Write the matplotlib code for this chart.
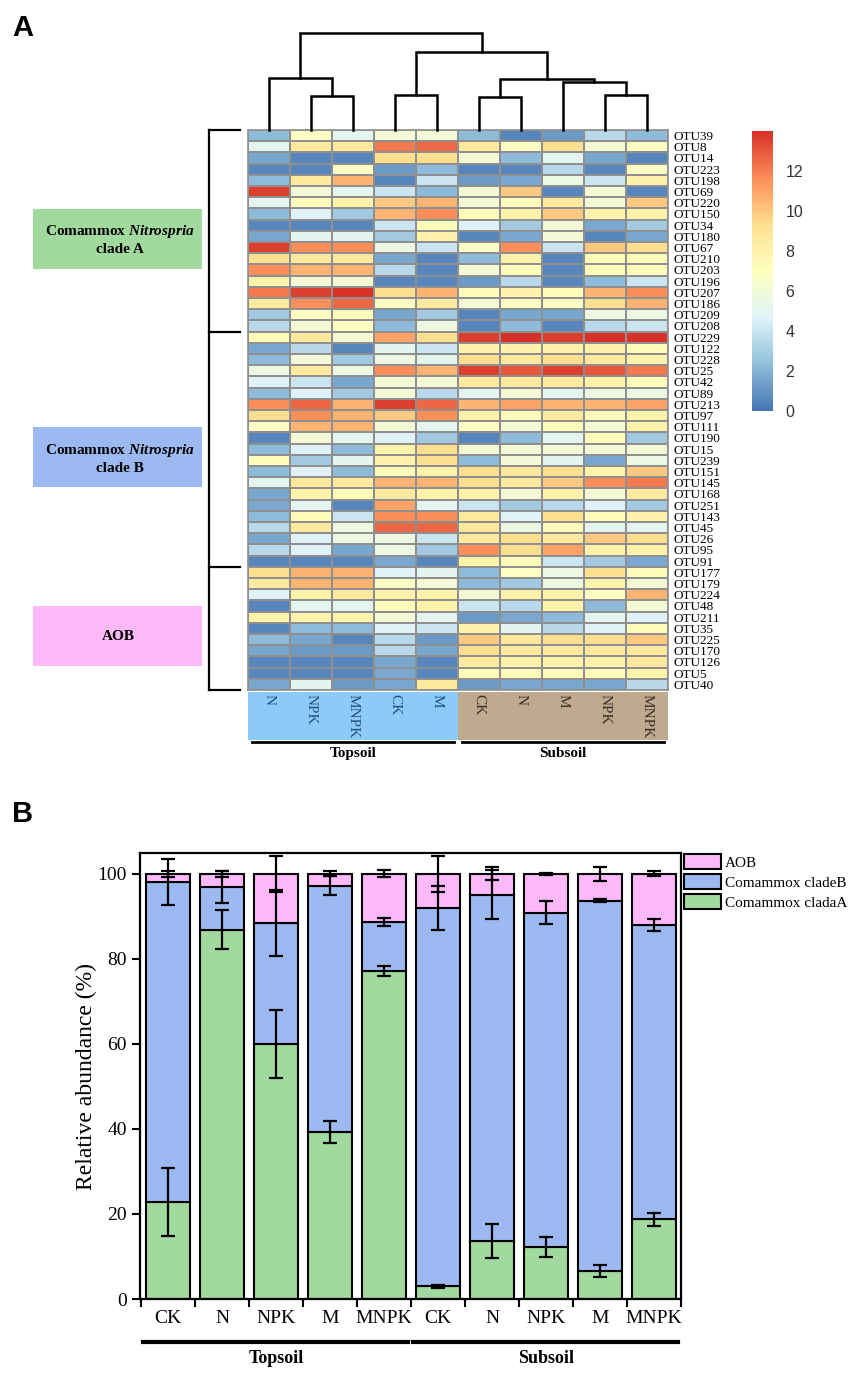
import numpy as np
import matplotlib
matplotlib.use("Agg")
import matplotlib.pyplot as plt
from matplotlib.colors import LinearSegmentedColormap
from matplotlib.patches import Rectangle, Patch

plt.rcParams['font.family'] = 'serif'
plt.rcParams['font.serif'] = ['Liberation Serif', 'DejaVu Serif']
plt.rcParams['mathtext.fontset'] = 'custom'
plt.rcParams['mathtext.rm'] = 'Liberation Serif:bold'
plt.rcParams['mathtext.it'] = 'Liberation Serif:italic:bold'
plt.rcParams['mathtext.bf'] = 'Liberation Serif:bold'

######## heatmap data (panel A) ########
otus = ["OTU39", "OTU8", "OTU14", "OTU223", "OTU198", "OTU69", "OTU220", "OTU150",
        "OTU34", "OTU180", "OTU67", "OTU210", "OTU203", "OTU196", "OTU207", "OTU186",
        "OTU209", "OTU208", "OTU229", "OTU122", "OTU228", "OTU25", "OTU42", "OTU89",
        "OTU213", "OTU97", "OTU111", "OTU190", "OTU15", "OTU239", "OTU151", "OTU145",
        "OTU168", "OTU251", "OTU143", "OTU45", "OTU26", "OTU95", "OTU91", "OTU177",
        "OTU179", "OTU224", "OTU48", "OTU211", "OTU35", "OTU225", "OTU170", "OTU126",
        "OTU5", "OTU40"]
samples = ["N", "NPK", "MNPK", "CK", "M", "CK", "N", "M", "NPK", "MNPK"]
soil = ["Topsoil"] * 5 + ["Subsoil"] * 5
abund = [
    [2.2, 6.8, 5.0, 6.1, 6.1, 2.2, 0.6, 1.2, 3.5, 2.2],
    [5.0, 8.6, 8.6, 12.1, 12.6, 8.6, 6.8, 9.4, 6.1, 6.8],
    [1.6, 0.6, 0.6, 9.4, 9.4, 6.1, 2.2, 5.0, 1.6, 0.6],
    [0.6, 0.6, 6.8, 1.2, 2.2, 0.6, 0.6, 3.5, 0.6, 6.8],
    [2.2, 8.6, 10.6, 0.6, 4.0, 1.2, 1.6, 5.6, 4.0, 8.0],
    [13.6, 6.1, 5.0, 4.0, 2.2, 6.1, 10.0, 0.6, 6.1, 0.6],
    [5.0, 7.3, 8.0, 10.0, 10.6, 6.1, 7.3, 8.6, 6.1, 10.0],
    [2.2, 4.6, 2.8, 10.6, 11.6, 7.3, 8.0, 10.0, 8.0, 8.0],
    [0.6, 0.6, 0.6, 4.0, 7.3, 4.6, 2.8, 6.1, 1.6, 2.8],
    [1.6, 5.0, 5.0, 2.8, 8.0, 0.6, 1.6, 6.1, 0.6, 1.6],
    [13.6, 11.6, 11.6, 5.6, 4.0, 6.8, 11.6, 4.0, 10.0, 9.4],
    [9.4, 8.6, 8.6, 1.6, 0.6, 2.2, 8.0, 0.6, 7.3, 7.3],
    [11.6, 10.6, 10.6, 3.5, 0.6, 6.1, 7.3, 0.6, 7.3, 7.3],
    [8.0, 6.1, 6.1, 0.6, 0.6, 1.2, 3.5, 0.6, 2.2, 4.0],
    [12.1, 13.6, 13.9, 9.4, 10.6, 7.3, 8.0, 7.3, 10.6, 11.6],
    [8.6, 11.6, 12.6, 6.8, 8.6, 6.1, 6.8, 6.8, 9.4, 10.6],
    [2.8, 6.8, 7.3, 1.6, 2.8, 0.6, 1.6, 1.6, 5.6, 5.6],
    [3.5, 6.1, 6.8, 2.2, 5.6, 0.6, 2.2, 0.6, 3.5, 4.0],
    [7.3, 8.6, 6.1, 11.0, 9.4, 13.6, 13.9, 13.6, 13.9, 13.9],
    [1.6, 3.5, 0.6, 5.0, 4.0, 8.0, 8.0, 8.0, 8.0, 7.3],
    [2.2, 6.1, 2.8, 5.6, 5.0, 9.4, 8.6, 9.4, 8.6, 8.0],
    [5.6, 8.6, 5.6, 11.6, 10.6, 13.6, 13.0, 13.6, 13.0, 12.1],
    [4.6, 4.0, 1.6, 6.1, 6.1, 8.6, 8.6, 8.6, 8.0, 7.3],
    [2.2, 4.6, 2.8, 6.1, 3.5, 5.0, 6.1, 5.0, 5.6, 5.6],
    [11.6, 12.6, 10.6, 13.6, 12.6, 10.6, 11.0, 10.6, 10.6, 11.0],
    [9.4, 11.6, 10.6, 10.0, 11.6, 8.0, 7.3, 8.6, 7.3, 8.0],
    [6.8, 10.6, 10.6, 6.1, 5.0, 6.8, 6.1, 7.3, 6.1, 8.0],
    [0.6, 6.1, 5.0, 4.6, 2.8, 0.6, 2.2, 5.0, 7.3, 2.8],
    [2.2, 4.6, 2.2, 8.0, 9.4, 6.1, 6.1, 6.1, 6.1, 6.1],
    [7.3, 2.8, 5.0, 8.0, 9.4, 2.2, 6.1, 5.0, 1.6, 5.6],
    [2.2, 4.6, 2.2, 7.3, 8.0, 9.4, 8.6, 9.4, 8.0, 10.0],
    [5.0, 8.6, 8.6, 10.6, 10.6, 9.4, 8.6, 10.0, 11.6, 12.1],
    [1.6, 8.0, 7.3, 8.6, 8.0, 8.0, 6.1, 8.0, 6.1, 8.6],
    [1.6, 5.0, 0.6, 11.0, 5.0, 4.0, 2.8, 3.5, 4.6, 2.8],
    [2.2, 7.3, 4.0, 11.6, 11.6, 8.6, 4.6, 9.4, 7.3, 8.0],
    [3.5, 8.6, 5.6, 12.6, 12.6, 8.6, 5.6, 7.3, 5.0, 5.0],
    [1.6, 4.6, 5.6, 5.6, 4.0, 8.6, 9.4, 8.6, 10.0, 9.4],
    [3.5, 4.6, 1.6, 5.6, 2.8, 11.6, 9.4, 11.0, 8.0, 8.0],
    [0.6, 0.6, 0.6, 1.6, 0.6, 8.0, 7.3, 4.0, 2.8, 1.6],
    [9.4, 10.6, 10.6, 4.6, 5.0, 2.2, 6.8, 5.6, 9.4, 7.3],
    [8.6, 10.6, 10.6, 6.8, 6.1, 2.2, 2.8, 5.6, 8.0, 6.1],
    [4.6, 8.0, 8.6, 8.0, 8.0, 6.1, 8.0, 8.0, 6.8, 10.6],
    [0.6, 5.0, 5.0, 7.3, 8.0, 4.0, 3.5, 8.0, 2.2, 6.1],
    [8.0, 8.0, 8.0, 6.1, 5.0, 1.2, 1.6, 2.2, 5.0, 4.6],
    [0.6, 2.2, 2.2, 4.6, 4.0, 8.0, 5.0, 3.5, 4.6, 7.3],
    [2.2, 1.6, 0.6, 3.5, 1.2, 10.0, 8.6, 9.4, 9.4, 10.0],
    [1.6, 1.2, 1.2, 3.5, 1.6, 9.4, 8.6, 8.6, 8.6, 8.6],
    [0.6, 0.6, 0.6, 1.6, 0.6, 8.6, 8.0, 8.0, 8.0, 8.6],
    [0.6, 0.6, 0.6, 1.6, 0.6, 7.3, 7.3, 7.3, 7.3, 8.0],
    [1.6, 5.0, 1.2, 1.6, 8.6, 1.2, 1.6, 1.6, 1.6, 3.5],
]
group_names = ["Comammox Nitrospria clade A", "Comammox Nitrospria clade B", "AOB"]
group_sizes = [18, 21, 11]
# column dendrogram: (left node, right node, height); leaves 0-9, new nodes from 10
merge_left = [1, 0, 3, 5, 8, 7, 13, 12, 11]
merge_right = [2, 10, 4, 6, 9, 14, 15, 16, 17]
merge_height = [34, 52, 35, 33, 35, 48, 51, 78, 97]

######## stacked bar data (panel B) ########
treat = ["CK", "N", "NPK", "M", "MNPK", "CK", "N", "NPK", "M", "MNPK"]
clade_a = np.array([22.8, 86.9, 60.0, 39.3, 77.2, 3.0, 13.7, 12.2, 6.6, 18.7])
clade_b = np.array([75.3, 10.0, 28.4, 57.9, 11.4, 89.0, 81.4, 78.7, 87.1, 69.3])
aob = np.array([1.9, 3.1, 11.6, 2.8, 11.4, 8.0, 4.9, 9.1, 6.3, 12.0])
err_a = [8.0, 4.6, 8.0, 2.5, 1.2, 0.4, 4.0, 2.4, 1.5, 1.5]
err_b = [5.5, 3.8, 7.8, 2.2, 0.9, 5.1, 5.8, 2.6, 0.4, 1.4]
err_aob = [0.7, 0.7, 4.2, 0.6, 0.8, 4.2, 1.5, 0.3, 1.6, 0.6]
bar_soil = ["Topsoil"] * 5 + ["Subsoil"] * 5

W, H = 854, 1375
fig = plt.figure(figsize=(W / 100, H / 100), dpi=100)


def box(x0, y0, x1, y1):
    return [x0 / W, 1 - y1 / H, (x1 - x0) / W, (y1 - y0) / H]


green, blue, pink = '#a2d99f', '#9cbaf1', '#fcb8f8'
cmap = LinearSegmentedColormap.from_list(
    'ph', ['#4575B4', '#91BFDB', '#E0F3F8', '#FFFFBF', '#FEE090', '#FC8D59', '#D73027'])

# overlay in pixel coords for brackets / labels
ov = fig.add_axes([0, 0, 1, 1])
ov.set_xlim(0, W)
ov.set_ylim(H, 0)
ov.axis('off')

# heatmap
hx0, hy0, hx1, hy1 = 248, 130, 668, 690
vals = np.array(abund)
nrow, ncol = vals.shape
ax_h = fig.add_axes(box(hx0, hy0, hx1, hy1))
mesh = ax_h.pcolormesh(vals, cmap=cmap, vmin=0, vmax=14,
                       edgecolors='#8f8f8f', linewidth=1.2)
ax_h.set_xlim(0, ncol)
ax_h.set_ylim(nrow, 0)
ax_h.set_xticks([])
ax_h.yaxis.tick_right()
ax_h.set_yticks(np.arange(nrow) + 0.5)
ax_h.set_yticklabels(otus, fontsize=9.5)
ax_h.tick_params(axis='y', length=0, pad=4)
for sp in ax_h.spines.values():
    sp.set_color('#8f8f8f')
    sp.set_linewidth(1.2)

# dendrogram
ax_d = fig.add_axes(box(hx0, 30, hx1, hy0))
ax_d.set_xlim(0, ncol)
ax_d.set_ylim(0, 100)
ax_d.axis('off')
pos = {i: (i + 0.5, 0) for i in range(ncol)}
for k in range(len(merge_left)):
    xa, ya = pos[merge_left[k]]
    xb, yb = pos[merge_right[k]]
    h = merge_height[k]
    ax_d.plot([xa, xa, xb, xb], [ya, h, h, yb], color='k', lw=1.8,
              clip_on=False, solid_joinstyle='miter')
    pos[ncol + k] = ((xa + xb) / 2, h)

# colorbar
cax = fig.add_axes(box(752, 131, 773, 411))
cb = fig.colorbar(mesh, cax=cax, ticks=range(0, 13, 2))
cb.outline.set_visible(False)
cax.tick_params(length=0, pad=9, labelsize=11.5, labelcolor='#333333')
for t in cax.get_yticklabels():
    t.set_family('Liberation Sans')

# row group bracket and labels
row_h = (hy1 - hy0) / nrow
bounds = hy0 + row_h * np.cumsum([0] + group_sizes)
ov.plot([209, 209], [bounds[0], bounds[-1]], color='k', lw=1.6)
for b in bounds:
    ov.plot([209, 240], [b, b], color='k', lw=1.6)
gcols = [green, blue, pink]
for i, name in enumerate(group_names):
    mid = (bounds[i] + bounds[i + 1]) / 2 + 8
    ov.add_patch(Rectangle((33, mid - 30), 169, 60, color=gcols[i], lw=0))
    if name.startswith("Comammox"):
        ov.text(120, mid - 7, r"$\mathrm{Comammox}\ \mathit{Nitrospria}$",
                ha='center', va='center', fontsize=11)
        ov.text(120, mid + 11, name.split()[-2] + " " + name.split()[-1],
                ha='center', va='center', fontsize=11, fontweight='bold')
    else:
        ov.text(118, mid, name, ha='center', va='center', fontsize=11,
                fontweight='bold')

# column annotation
ax_a = fig.add_axes(box(hx0, 692, hx1, 740))
ax_a.set_xlim(0, ncol)
ax_a.set_ylim(1, 0)
ax_a.axis('off')
soil_col = {"Topsoil": '#8ccbf9', "Subsoil": '#bfa98f'}
soil_txt = {"Topsoil": '#24507e', "Subsoil": '#3a3026'}
for s in ["Topsoil", "Subsoil"]:
    idx = [i for i, v in enumerate(soil) if v == s]
    ax_a.add_patch(Rectangle((idx[0], 0), len(idx), 1, color=soil_col[s], lw=0))
    ax_a.plot([idx[0] + 0.1, idx[-1] + 0.9], [1.05, 1.05], color='k', lw=2,
              clip_on=False)
    ax_a.text((idx[0] + idx[-1] + 1) / 2, 1.29, s, ha='center', va='center',
              fontsize=11, fontweight='bold')
for i, lab in enumerate(samples):
    ax_a.text(i + 0.5, 0.04, lab, rotation=-90, ha='center', va='top',
              fontsize=11, color=soil_txt[soil[i]])

# panel B
ax_b = fig.add_axes(box(140, 853, 681, 1299))
x = np.arange(len(treat))
kw = dict(width=0.8, edgecolor='k', linewidth=1.5, zorder=2)
ax_b.bar(x, clade_a, color=green, **kw)
ax_b.bar(x, clade_b, bottom=clade_a, color=blue, **kw)
ax_b.bar(x, aob, bottom=clade_a + clade_b, color=pink, **kw)
ekw = dict(fmt='none', ecolor='k', elinewidth=1.6, capsize=5, capthick=1.6, zorder=3)
ax_b.errorbar(x, clade_a, yerr=err_a, **ekw)
ax_b.errorbar(x, clade_a + clade_b, yerr=err_b, **ekw)
ax_b.errorbar(x, clade_a + clade_b + aob, yerr=err_aob, **ekw)
ax_b.set_xlim(-0.52, 9.5)
ax_b.set_ylim(0, 104.9)
ax_b.set_yticks(range(0, 101, 20))
ax_b.set_xticks(x)
ax_b.set_xticklabels(treat, fontsize=14)
ax_b.set_xticks(np.arange(-0.5, 10, 1), minor=True)
ax_b.tick_params(axis='x', which='major', length=0, pad=8)
ax_b.tick_params(axis='x', which='minor', length=6, width=1.5, direction='out')
ax_b.tick_params(axis='y', labelsize=14, length=6, width=1.5)
ax_b.set_ylabel("Relative abundance (%)", fontsize=17, labelpad=0)
for sp in ax_b.spines.values():
    sp.set_linewidth(1.6)
for s in ["Topsoil", "Subsoil"]:
    idx = [i for i, v in enumerate(bar_soil) if v == s]
    ax_b.plot([idx[0] - 0.47, idx[-1] + 0.45], [-0.097, -0.097], color='k', lw=3,
              transform=ax_b.get_xaxis_transform(), clip_on=False)
    ax_b.text((idx[0] + idx[-1]) / 2, -0.133, s, ha='center', va='center',
              fontsize=13, fontweight='bold', transform=ax_b.get_xaxis_transform())
handles = [Patch(facecolor=pink, edgecolor='k', lw=1.5, label='AOB'),
           Patch(facecolor=blue, edgecolor='k', lw=1.5, label='Comammox cladeB'),
           Patch(facecolor=green, edgecolor='k', lw=1.5, label='Comammox cladaA')]
ax_b.legend(handles=handles, loc='upper left', bbox_to_anchor=(684 / W, 1 - 854 / H),
            bbox_transform=fig.transFigure, frameon=False, fontsize=11,
            handlelength=2.4, handleheight=1.15, handletextpad=0.3,
            labelspacing=0.28, borderpad=0, borderaxespad=0)

fig.text(12 / W, 1 - 14 / H, 'A', ha='left', va='top', fontsize=21,
         fontweight='bold', family='Liberation Sans')
fig.text(12 / W, 1 - 800 / H, 'B', ha='left', va='top', fontsize=21,
         fontweight='bold', family='Liberation Sans')

fig.savefig('out.png', dpi=100)
